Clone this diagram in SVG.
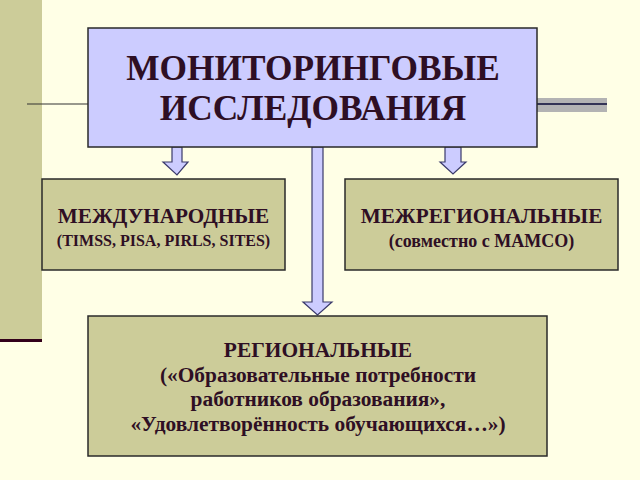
<svg xmlns="http://www.w3.org/2000/svg" width="640" height="480" viewBox="0 0 640 480">
<style>
.t{font-family:'Liberation Serif','Times New Roman','DejaVu Serif',serif;font-weight:700;fill:#2e0f24;text-anchor:middle}
.box{fill:#cccc99;stroke:#2a2a2a;stroke-width:1.5}
.arr{fill:#ccccff;stroke:#3a3a6a;stroke-width:1.2}
</style>
<rect width="640" height="480" fill="#ffffe6"/>
<rect x="0" y="0" width="42" height="340" fill="#cccc99"/>
<rect x="0" y="339" width="42" height="3" fill="#33001a"/>
<line x1="27" y1="104" x2="88" y2="104" stroke="#333333" stroke-width="1.2"/>
<rect x="537" y="98" width="70" height="14" fill="#b3b3b3"/>
<line x1="537" y1="104" x2="607" y2="104" stroke="#333355" stroke-width="2"/>
<g id="connectors">
<path class="arr" d="M172,147 H182 V162 H188 L177,175 L163,162 H172 Z"/>
<path class="arr" d="M445,147 H461 V162 H466 L453,174 L440,162 H445 Z"/>
<path class="arr" d="M312,147 H323 V302 H332 L317.5,315 L303,302 H312 Z"/>
</g>
<g id="main">
<rect x="88" y="28" width="449" height="119" fill="#ccccff" stroke="#2a2a2a" stroke-width="1.5"/>
<text class="t" x="313" y="80" font-size="35.3">МОНИТОРИНГОВЫЕ</text>
<text class="t" x="313" y="120" font-size="35.3">ИССЛЕДОВАНИЯ</text>
</g>
<g id="international">
<rect class="box" x="42" y="179" width="243" height="91"/>
<text class="t" x="163.5" y="223" font-size="21.2">МЕЖДУНАРОДНЫЕ</text>
<text class="t" x="163.5" y="246" font-size="16">(TIMSS, PISA, PIRLS, SITES)</text>
</g>
<g id="interregional">
<rect class="box" x="345" y="179" width="273" height="91"/>
<text class="t" x="481.5" y="223" font-size="21.2">МЕЖРЕГИОНАЛЬНЫЕ</text>
<text class="t" x="481.5" y="247" font-size="18">(совместно с МАМСО)</text>
</g>
<g id="regional">
<rect class="box" x="88" y="316" width="459" height="140"/>
<text class="t" x="318" y="357" font-size="21.4">РЕГИОНАЛЬНЫЕ</text>
<text class="t" x="318" y="381.5" font-size="21.4">(«Образовательные потребности</text>
<text class="t" x="318" y="406" font-size="21.4">работников образования»,</text>
<text class="t" x="318" y="430.5" font-size="21.4">«Удовлетворённость обучающихся…»)</text>
</g>
</svg>
